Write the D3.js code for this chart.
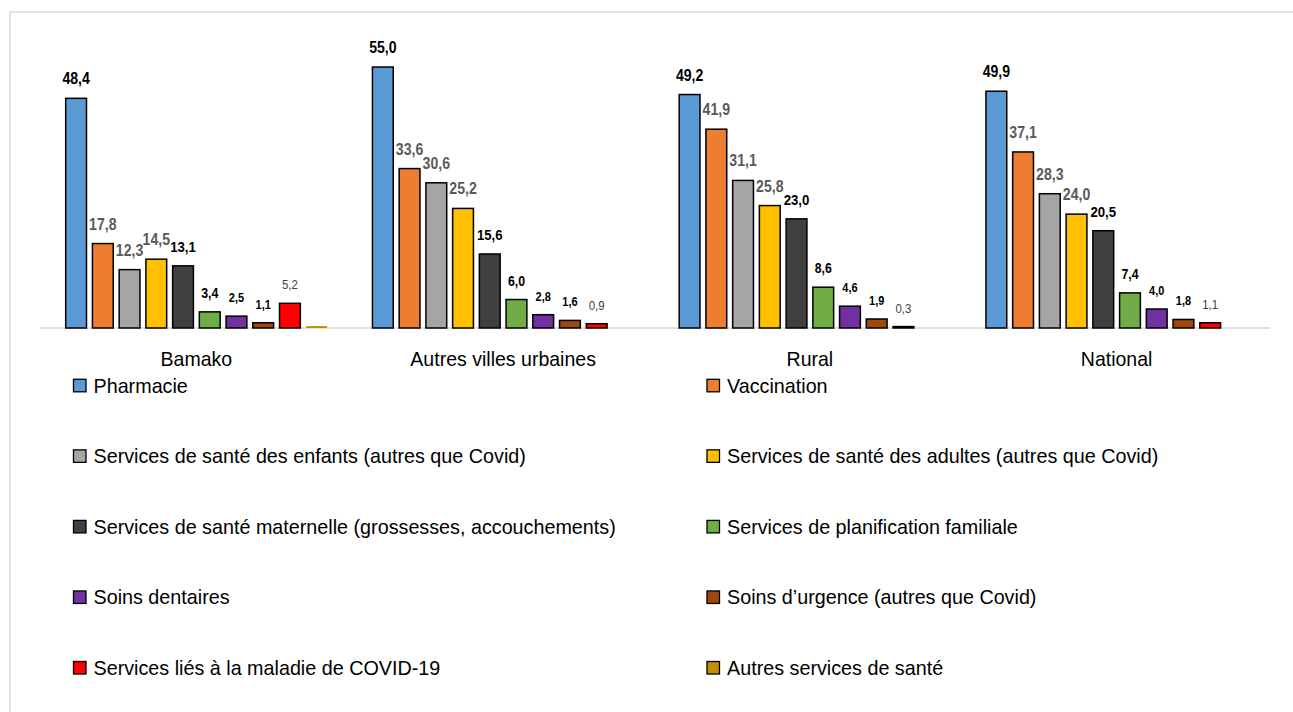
<!DOCTYPE html>
<html lang='fr'>
<head>
    <meta charset='UTF-8'>
    <title>Services de santé</title>
    <style>
        body { margin: 0; background: #fff; }
        text { font-family: 'Liberation Sans', Arial, sans-serif; }
    </style>
</head>
<body>
<div id="chart-area"></div>
<script src='https://d3js.org/d3.v7.min.js'></script>
<script>

    const categories = ['Bamako', 'Autres villes urbaines', 'Rural', 'National'];
    const series = [
        'Pharmacie',
        'Vaccination',
        'Services de santé des enfants (autres que Covid)',
        'Services de santé des adultes (autres que Covid)',
        'Services de santé maternelle (grossesses, accouchements)',
        'Services de planification familiale',
        'Soins dentaires',
        'Soins d\u2019urgence (autres que Covid)',
        'Services liés à la maladie de COVID-19',
        'Autres services de santé'
    ];
    // one row per category, one value per series (null = no bar)
    const bamako = [48.4, 17.8, 12.3, 14.5, 13.1, 3.4, 2.5, 1.1, 5.2, 0.4];
    const autresVilles = [55.0, 33.6, 30.6, 25.2, 15.6, 6.0, 2.8, 1.6, 0.9, null];
    const rural = [49.2, 41.9, 31.1, 25.8, 23.0, 8.6, 4.6, 1.9, 0.3, null];
    const national = [49.9, 37.1, 28.3, 24.0, 20.5, 7.4, 4.0, 1.8, 1.1, null];
    const values = [bamako, autresVilles, rural, national];

    const colors = ['#5b9bd5', '#ed7d31', '#a5a5a5', '#ffc000', '#404040',
        '#70ad47', '#7030a0', '#9e480e', '#ff0000', '#bf9000'];

    // label look per series: [font size, weight, colour]
    const labelStyle = [
        [16, 'bold', '#000'],
        [16, 'bold', '#595959'],
        [16, 'bold', '#595959'],
        [16, 'bold', '#595959'],
        [15, 'bold', '#000'],
        [14, 'bold', '#000'],
        [12.5, 'bold', '#000'],
        [12.5, 'bold', '#000'],
        [13, 'normal', '#404040'],
        null
    ];

    const outerWidth = 1293;
    const outerHeight = 712;
    const plot = {left: 43, right: 1270, top: 43.3, bottom: 328};

    // squeeze text a little, the original uses a narrow face
    function narrow(sel, k) {
        sel.each(function () {
            const w = this.getComputedTextLength();
            d3.select(this).attr('textLength', w * k).attr('lengthAdjust', 'spacingAndGlyphs');
        });
    }

    const svg = d3.select('#chart-area').append('svg')
        .attr('width', outerWidth)
        .attr('height', outerHeight);

    // light frame round the chart
    svg.append('rect')
        .attr('x', 10).attr('y', 12)
        .attr('width', outerWidth + 20).attr('height', outerHeight + 20)
        .attr('fill', 'none')
        .attr('stroke', '#d9d9d9')
        .attr('stroke-width', 1.5);

    const x0 = d3.scaleBand().domain(categories)
        .range([plot.left, plot.right])
        .paddingInner(0.148).paddingOuter(0.074);
    const x1 = d3.scaleBand().domain(d3.range(series.length))
        .range([0, x0.bandwidth()])
        .paddingInner(0.222);
    const y = d3.scaleLinear().domain([0, 60]).range([plot.bottom, plot.top]);

    // baseline
    svg.append('line')
        .attr('x1', plot.left - 3).attr('x2', plot.right)
        .attr('y1', y(0)).attr('y2', y(0))
        .attr('stroke', '#d9d9d9')
        .attr('stroke-width', 1.5);

    const groups = svg.append('g').selectAll('g')
        .data(categories)
        .join('g')
        .attr('transform', d => `translate(${x0(d)},0)`);

    const cells = groups.selectAll('g.cell')
        .data((d, i) => values[i].map((v, j) => ({v, j})).filter(c => c.v !== null))
        .join('g').attr('class', 'cell');

    cells.append('rect')
        .attr('x', d => x1(d.j))
        .attr('width', x1.bandwidth())
        .attr('y', d => y(d.v))
        .attr('height', d => y(0) - y(d.v))
        .attr('fill', d => colors[d.j])
        .attr('stroke', d => d.j === 9 ? 'none' : '#000')
        .attr('stroke-width', 1.5);

    cells.filter(d => labelStyle[d.j])
        .append('text')
        .attr('x', d => x1(d.j) + x1.bandwidth() / 2)
        .attr('y', d => y(d.v) - 14)
        .attr('text-anchor', 'middle')
        .style('font-size', d => labelStyle[d.j][0] + 'px')
        .style('font-weight', d => labelStyle[d.j][1])
        .attr('fill', d => labelStyle[d.j][2])
        .text(d => d3.format('.1f')(d.v).replace('.', ','))
        .call(narrow, 0.88);

    // category labels
    svg.append('g').selectAll('text')
        .data(categories)
        .join('text')
        .attr('x', d => x0(d) + x0.bandwidth() / 2)
        .attr('y', 366)
        .attr('text-anchor', 'middle')
        .style('font-size', '21px')
        .attr('fill', '#000')
        .text(d => d)
        .call(narrow, 0.93);

    // legend, two columns
    const legendCols = [73.5, 707];
    const legendTop = 385.3;
    const legendStep = 70.55;
    const legend = svg.append('g').selectAll('g')
        .data(series)
        .join('g')
        .attr('transform', (d, i) =>
            `translate(${legendCols[i % 2]},${legendTop + Math.floor(i / 2) * legendStep})`);

    legend.append('rect')
        .attr('x', 0).attr('y', -6)
        .attr('width', 12.5).attr('height', 12.5)
        .attr('fill', (d, i) => colors[i])
        .attr('stroke', '#000')
        .attr('stroke-width', 1.3);

    legend.append('text')
        .attr('x', 20)
        .attr('y', 7.5)
        .style('font-size', '21px')
        .attr('fill', '#000')
        .text(d => d)
        .call(narrow, 0.94);

</script>
</body>
</html>
